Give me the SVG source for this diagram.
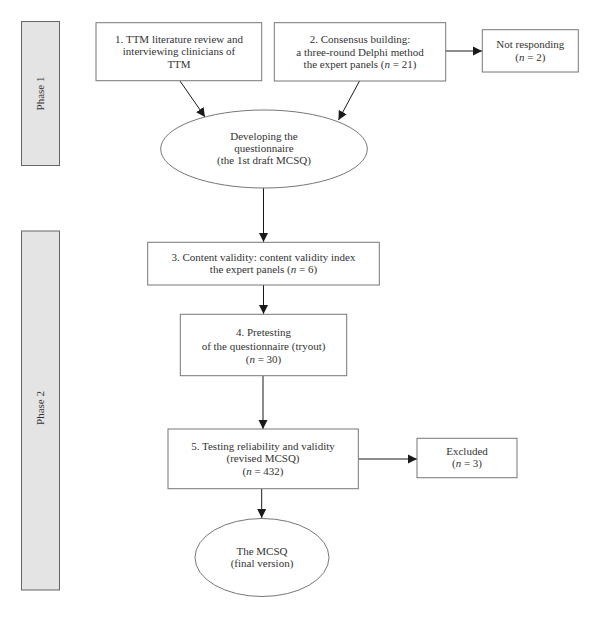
<svg xmlns="http://www.w3.org/2000/svg" width="600" height="618" viewBox="0 0 600 618">
<defs>
<marker id="ah" markerWidth="10" markerHeight="10" refX="9" refY="5" orient="auto" markerUnits="userSpaceOnUse">
<path d="M0,0.5 L9,5 L0,9.5 Z" fill="#1a1a1a"/>
</marker>
<style>
.box{fill:#fff;stroke:#777;stroke-width:1}
.phase{fill:#e4e4e4;stroke:#666;stroke-width:1}
text{font-family:"Liberation Serif","Times New Roman",serif;font-size:11px;fill:#333;text-anchor:middle}
.c{stroke:#1a1a1a;stroke-width:1;fill:none;marker-end:url(#ah)}
</style>
</defs>
<rect width="600" height="618" fill="#fff"/>
<g id="phase1">
<rect class="phase" x="21.5" y="21.5" width="38" height="144"/>
<text transform="translate(44,93.5) rotate(-90)">Phase 1</text>
</g>
<g id="phase2">
<rect class="phase" x="21.5" y="231" width="38" height="359"/>
<text transform="translate(44,408) rotate(-90)">Phase 2</text>
</g>
<g id="connectors">
<line class="c" x1="180" y1="81" x2="205" y2="117"/>
<line class="c" x1="359.5" y1="81" x2="338.5" y2="120"/>
<line class="c" x1="446" y1="51" x2="482" y2="51"/>
<line class="c" x1="263.5" y1="188" x2="263.5" y2="242"/>
<line class="c" x1="263.5" y1="285" x2="263.5" y2="314"/>
<line class="c" x1="263" y1="376" x2="263" y2="429"/>
<line class="c" x1="358.5" y1="459" x2="417" y2="459"/>
<line class="c" x1="261.7" y1="489" x2="261.7" y2="518"/>
</g>
<g id="n1">
<rect class="box" x="96" y="22.7" width="165.7" height="58"/>
<text x="179" y="42.5">1. TTM literature review and</text>
<text x="179" y="55">interviewing clinicians of</text>
<text x="179" y="67.5">TTM</text>
</g>
<g id="n2">
<rect class="box" x="274.3" y="22.7" width="171.4" height="58.3"/>
<text x="360" y="43">2. Consensus building:</text>
<text x="360" y="55.5">a three-round Delphi method</text>
<text x="360" y="68">the expert panels (<tspan font-style="italic">n</tspan> = 21)</text>
</g>
<g id="n_notresp">
<rect class="box" x="482.3" y="29.7" width="96" height="42.3"/>
<text x="530.3" y="48">Not responding</text>
<text x="530.3" y="60.5">(<tspan font-style="italic">n</tspan> = 2)</text>
</g>
<g id="n_develop">
<ellipse class="box" cx="264" cy="149" rx="103.3" ry="39"/>
<text x="264" y="140">Developing the</text>
<text x="264" y="152">questionnaire</text>
<text x="264" y="164">(the 1st draft MCSQ)</text>
</g>
<g id="n3">
<rect class="box" x="147.7" y="242.3" width="231.6" height="42.7"/>
<text x="263.5" y="260.5">3. Content validity: content validity index</text>
<text x="263.5" y="273">the expert panels (<tspan font-style="italic">n</tspan> = 6)</text>
</g>
<g id="n4">
<rect class="box" x="180.3" y="314.3" width="166.4" height="61.4"/>
<text x="263.5" y="336">4. Pretesting</text>
<text x="263.5" y="349.5">of the questionnaire (tryout)</text>
<text x="263.5" y="362.5">(<tspan font-style="italic">n</tspan> = 30)</text>
</g>
<g id="n5">
<rect class="box" x="168" y="429" width="190.3" height="59.7"/>
<text x="263" y="449.5">5. Testing reliability and validity</text>
<text x="263" y="462">(revised MCSQ)</text>
<text x="263" y="474.5">(<tspan font-style="italic">n</tspan> = 432)</text>
</g>
<g id="n_excluded">
<rect class="box" x="417" y="438.3" width="100" height="39.4"/>
<text x="467" y="454.5">Excluded</text>
<text x="467" y="467">(<tspan font-style="italic">n</tspan> = 3)</text>
</g>
<g id="n_final">
<ellipse class="box" cx="262" cy="557.5" rx="67" ry="39"/>
<text x="262" y="554.5">The MCSQ</text>
<text x="262" y="567">(final version)</text>
</g>
</svg>
